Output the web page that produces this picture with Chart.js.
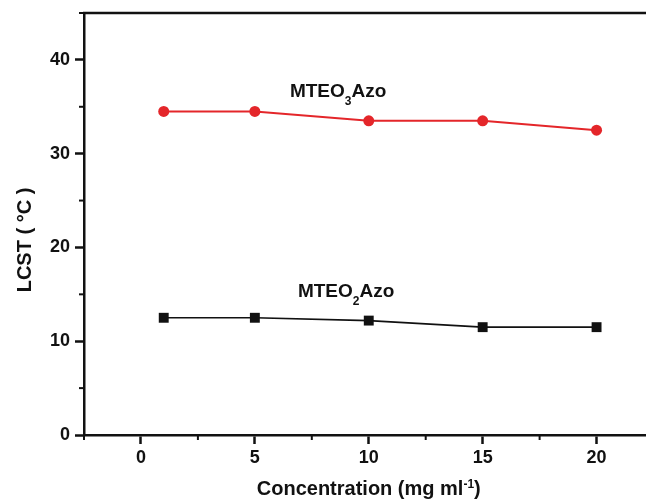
<!DOCTYPE html>
<html>
<head>
<meta charset="utf-8">
<script src="https://cdn.jsdelivr.net/npm/chart.js@4/dist/chart.umd.min.js"></script>
<style>
html,body{margin:0;padding:0;background:#fff;overflow:hidden;}
#wrap{width:646px;height:501px;position:relative;}
</style>
</head>
<body>
<div id="wrap"><canvas id="c" width="646" height="501"></canvas></div>
<script>
// ---- data ----
const concentrations = [1, 5, 10, 15, 20];
const lcstMTEO3Azo = [34.5, 34.5, 33.5, 33.5, 32.5];
const lcstMTEO2Azo = [12.5, 12.5, 12.2, 11.5, 11.5];
const xTickValues = [0, 5, 10, 15, 20];
const yTickValues = [0, 10, 20, 30, 40];
const xMinorTicks = [-2.5, 2.5, 7.5, 12.5, 17.5, 22.5];
const yMinorTicks = [5, 15, 25, 35, 45];
const seriesNames = ['MTEO3Azo', 'MTEO2Azo'];
const xTitle = 'Concentration (mg ml';
const xTitleSup = '-1';
const yTitle = 'LCST ( °C )';

const FONT = '"Liberation Sans", Arial, Helvetica, sans-serif';

const toPts = (xs, ys) => xs.map((x, i) => ({x: x, y: ys[i]}));

// labels: [prefix, subscript, suffix, anchorX(data), anchorY(data)]
const seriesLabels = [
  {pre: 'MTEO', sub: '3', post: 'Azo', x: 6.54, y: 36.0},
  {pre: 'MTEO', sub: '2', post: 'Azo', x: 6.89, y: 14.7}
];

const noPad = s => { s.paddingLeft = 0; s.paddingRight = 0; s.paddingTop = 0; s.paddingBottom = 0; };

const decor = {
  id: 'decor',
  afterDraw(chart) {
    const ctx = chart.ctx;
    const xs = chart.scales.x, ys = chart.scales.y;
    const a = chart.chartArea;
    ctx.save();
    ctx.strokeStyle = '#111';
    // top border
    ctx.lineWidth = 2.5;
    ctx.beginPath();
    ctx.moveTo(a.left - 1, a.top);
    ctx.lineTo(a.right + 2, a.top);
    ctx.stroke();
    // minor ticks
    ctx.lineWidth = 2;
    yMinorTicks.forEach(v => {
      const py = ys.getPixelForValue(v);
      ctx.beginPath(); ctx.moveTo(a.left - 5, py); ctx.lineTo(a.left, py); ctx.stroke();
    });
    xMinorTicks.forEach(v => {
      const px = xs.getPixelForValue(v);
      if (px > chart.width) return;
      ctx.beginPath(); ctx.moveTo(px, a.bottom); ctx.lineTo(px, a.bottom + 5); ctx.stroke();
    });
    // series labels
    ctx.fillStyle = '#111';
    ctx.textBaseline = 'alphabetic';
    ctx.textAlign = 'left';
    seriesLabels.forEach(l => {
      let px = xs.getPixelForValue(l.x);
      const py = ys.getPixelForValue(l.y);
      ctx.font = 'bold 19px ' + FONT;
      ctx.fillText(l.pre, px, py);
      px += ctx.measureText(l.pre).width;
      ctx.font = 'bold 12px ' + FONT;
      ctx.fillText(l.sub, px, py + 8);
      px += ctx.measureText(l.sub).width;
      ctx.font = 'bold 19px ' + FONT;
      ctx.fillText(l.post, px, py);
    });
    // x title with superscript
    ctx.font = 'bold 20px ' + FONT;
    const w1 = ctx.measureText(xTitle).width;
    const w3 = ctx.measureText(')').width;
    ctx.font = 'bold 12px ' + FONT;
    const w2 = ctx.measureText(xTitleSup).width;
    const cx = (xs.getPixelForValue(-2.5) + xs.getPixelForValue(22.5)) / 2;
    let tx = cx - (w1 + w2 + w3) / 2;
    const ty = 495;
    ctx.font = 'bold 20px ' + FONT;
    ctx.fillText(xTitle, tx, ty); tx += w1;
    ctx.font = 'bold 12px ' + FONT;
    ctx.fillText(xTitleSup, tx, ty - 7); tx += w2;
    ctx.font = 'bold 20px ' + FONT;
    ctx.fillText(')', tx, ty);
    // y title rotated
    ctx.translate(31, (a.top + a.bottom) / 2 + 16);
    ctx.rotate(-Math.PI / 2);
    ctx.textAlign = 'center';
    ctx.font = 'bold 20px ' + FONT;
    ctx.fillText(yTitle, 0, 0);
    ctx.restore();
  }
};

new Chart(document.getElementById('c'), {
  type: 'line',
  data: {
    datasets: [
      {
        label: seriesNames[0],
        data: toPts(concentrations, lcstMTEO3Azo),
        borderColor: '#e4262a',
        backgroundColor: '#e4262a',
        borderWidth: 2,
        pointStyle: 'circle',
        pointRadius: 5.5,
        pointBorderWidth: 0,
        tension: 0
      },
      {
        label: seriesNames[1],
        data: toPts(concentrations, lcstMTEO2Azo),
        borderColor: '#111',
        backgroundColor: '#111',
        borderWidth: 1.6,
        pointStyle: 'rect',
        pointRadius: 7,
        pointBorderWidth: 0,
        tension: 0
      }
    ]
  },
  options: {
    responsive: false,
    animation: false,
    devicePixelRatio: 1,
    layout: {autoPadding: false, padding: {left: 0, top: 13, right: 0, bottom: 0}},
    plugins: {legend: {display: false}, tooltip: {enabled: false}},
    scales: {
      x: {
        type: 'linear',
        min: -2.5,
        max: 22.17,
        afterBuildTicks: s => { s.ticks = xTickValues.map(v => ({value: v})); },
        afterFit: s => { s.height = 66; noPad(s); },
        grid: {display: true, drawOnChartArea: false, drawTicks: true, tickLength: 9, tickWidth: 2.5, tickColor: '#111'},
        border: {display: true, color: '#111', width: 2.5},
        ticks: {color: '#111', font: {family: FONT, size: 18, weight: 'bold'}, padding: 3, maxRotation: 0}
      },
      y: {
        type: 'linear',
        min: 0,
        max: 45,
        afterBuildTicks: s => { s.ticks = yTickValues.map(v => ({value: v})); },
        afterFit: s => { s.width = 84; noPad(s); },
        grid: {display: true, drawOnChartArea: false, drawTicks: true, tickLength: 9, tickWidth: 2.5, tickColor: '#111'},
        border: {display: true, color: '#111', width: 2.5},
        ticks: {color: '#111', font: {family: FONT, size: 18, weight: 'bold'}, padding: 5}
      }
    }
  },
  plugins: [decor]
});
</script>
</body>
</html>
